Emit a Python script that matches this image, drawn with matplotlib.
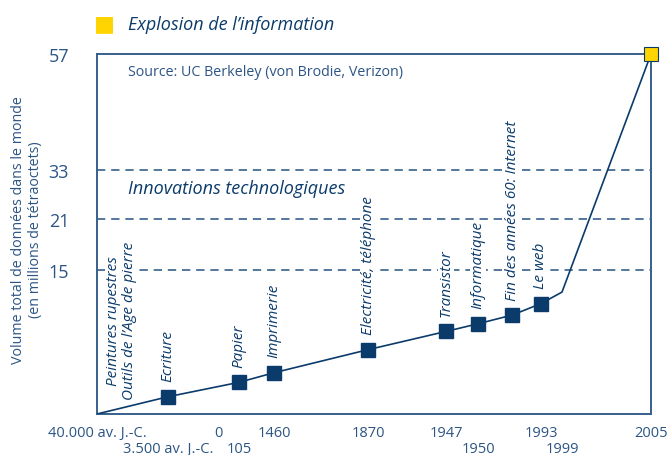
import numpy as np
import matplotlib
matplotlib.use("Agg")
from matplotlib import pyplot as plt

plt.rcParams['font.family'] = ['Open Sans', 'DejaVu Sans']

# timeline: years of each milestone and the volume reached (millions of TB)
years = [-40000, -3500, 105, 1460, 1870, 1947, 1950, 1969, 1993, 1999, 2005]
volume = [0.0, 1.8, 3.3, 4.3, 6.7, 8.6, 9.4, 10.3, 11.5, 12.7, 57]

# innovations marked with a square
innov_years = [-3500, 105, 1460, 1870, 1947, 1950, 1969, 1993]
innov_volume = [1.8, 3.3, 4.3, 6.7, 8.6, 9.4, 10.3, 11.5]
innov_labels = ["Ecriture", "Papier", "Imprimerie", "Electricité, téléphone",
                "Transistor", "Informatique", "Fin des années 60: Internet", "Le web"]

# x tick labels (two rows)
xticks_top = [-40000, 0, 1460, 1870, 1947, 1993, 2005]
xlabels_top = ["40.000 av. J.-C.", "0", "1460", "1870", "1947", "1993", "2005"]
xticks_low = [-3500, 105, 1950, 1999]
xlabels_low = ["3.500 av. J.-C.", "105", "1950", "1999"]

yticks = [15, 21, 33, 57]

NAVY = "#0b3b6b"
TEXT = "#2c5584"
LINE = "#37608c"
YELLOW = "#ffd400"

# non-linear timeline scale (schematic axis)
x_knots = np.array([-40000, -3500, 0, 105, 1460, 1870, 1947, 1950, 1969, 1993, 1999, 2005])
x_pos = np.array([0, 71, 121, 142, 177, 271, 349, 381, 415, 444, 465, 554])
y_knots = np.array([0, 15, 21, 33, 57])
y_pos = np.array([0, 144, 195, 244, 360])


def fwd_x(v):
    return np.interp(v, x_knots, x_pos)


def inv_x(p):
    return np.interp(p, x_pos, x_knots)


def fwd_y(v):
    return np.interp(v, y_knots, y_pos)


def inv_y(p):
    return np.interp(p, y_pos, y_knots)


fig = plt.figure(figsize=(6.67, 4.56), dpi=100)
ax = fig.add_axes([97 / 667, 41 / 456, 554 / 667, 360 / 456])
ax.set_xscale('function', functions=(fwd_x, inv_x))
ax.set_yscale('function', functions=(fwd_y, inv_y))
ax.set_xlim(-40000, 2005)
ax.set_ylim(0, 57)

# dashed reference levels
for yv in yticks[:3]:
    ax.axhline(yv, color=LINE, lw=1.2, ls=(0, (5, 3.5)), zorder=1)

ax.plot(years, volume, color=NAVY, lw=1.2, zorder=3)
ax.plot(innov_years, innov_volume, ls='none', marker='s', ms=10,
        color=NAVY, zorder=4)
ax.plot([2005], [57], marker='s', ms=10, color=YELLOW, mec=NAVY, mew=0.8,
        zorder=5, clip_on=False)

# vertical labels above each innovation
for xv, yv, lab in zip(innov_years, innov_volume, innov_labels):
    ax.annotate(lab, (xv, yv), xytext=(0, 11), textcoords='offset points',
                rotation=90, ha='center', va='bottom', fontsize=11,
                style='italic', color=NAVY, zorder=2,
                bbox=dict(facecolor='white', edgecolor='none', pad=0.5))
ax.annotate("Peintures rupestres\nOutils de l’Age de pierre", (-40000, 0),
            xytext=(17.5, 11), textcoords='offset points', rotation=90,
            ha='center', va='bottom', fontsize=11, style='italic',
            color=NAVY, linespacing=1.05, zorder=2,
            bbox=dict(facecolor='white', edgecolor='none', pad=0.5))

ax.set_xticks(xticks_top)
ax.set_xticklabels(xlabels_top)
ax.set_xticks(xticks_low, minor=True)
ax.set_xticklabels(xlabels_low, minor=True)
ax.set_yticks(yticks)
ax.set_yticklabels([str(v) for v in yticks])
ax.tick_params(axis='x', which='major', length=0, pad=8, labelsize=10.5,
               labelcolor=TEXT)
ax.tick_params(axis='x', which='minor', length=0, pad=19.5, labelsize=10.5,
               labelcolor=TEXT)
ax.tick_params(axis='y', length=0, pad=20, labelsize=13, labelcolor=TEXT)
ax.yaxis.set_minor_locator(matplotlib.ticker.NullLocator())
for sp in ax.spines.values():
    sp.set_color(LINE)
    sp.set_linewidth(1.4)

ax.text(0.056, 0.95, "Source: UC Berkeley (von Brodie, Verizon)",
        transform=ax.transAxes, fontsize=10.3, color=TEXT, va='center')
ax.text(0.056, 0.628, "Innovations technologiques", transform=ax.transAxes,
        fontsize=13, style='italic', color=NAVY, va='center')

fig.text(104 / 667, 1 - 24.5 / 456, "■", color=YELLOW, fontsize=16,
         ha='center', va='center', family='DejaVu Sans')
fig.text(128 / 667, 1 - 25 / 456, "Explosion de l’information", fontsize=13,
         style='italic', color=NAVY, va='center')
fig.text(27 / 667, 1 - 230 / 456,
         "Volume total de données dans le monde\n(en millions de tétraoctets)",
         rotation=90, ha='center', va='center', fontsize=10.3, color=TEXT,
         linespacing=1.1)

fig.savefig("out.png", dpi=100)
